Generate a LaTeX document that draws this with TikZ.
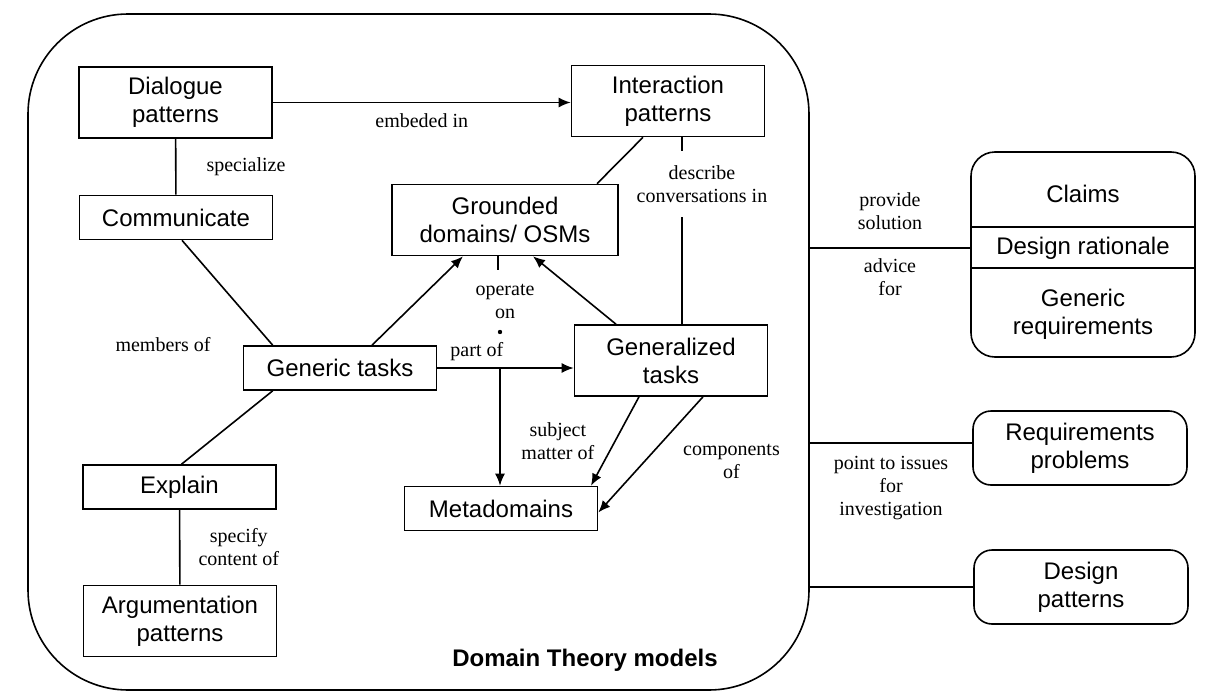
\documentclass[tikz,border=0pt]{standalone}
\usepackage{fontspec}
\setmainfont{Liberation Serif}
\setsansfont{Liberation Sans}
\usetikzlibrary{arrows.meta, positioning}
\tikzstyle{arrow} = [line width=0.8pt,->,>={Latex[length=6pt,width=5pt]}]
\tikzstyle{link} = [line width=0.8pt]
\tikzstyle{model} = [
rectangle, draw=black, line width=0.8pt, minimum width=96.5pt,
text centered, align=center, inner sep=0pt, font=\sffamily\fontsize{12}{14}\selectfont
]
\tikzstyle{tallbox} = [model, minimum height=35.5pt]
\tikzstyle{shortbox} = [model, minimum height=22pt]
\tikzstyle{outcome} = [model, rounded corners=9pt, minimum width=107pt, minimum height=37pt]
\tikzstyle{lbl} = [align=center, inner sep=1pt, font=\fontsize{10}{11.5}\selectfont]

\begin{document}
\begin{tikzpicture}[x=0.5pt, y=-0.5pt]
			\useasboundingbox (0,0) rectangle (1206,696);

			% Domain Theory frame
			\node (dtmodels) [draw, line width=0.8pt, rounded corners=50pt, minimum width=390.5pt, minimum height=338pt, inner sep=0pt] at (418.5,352) {};
			\node (dttitle) [font=\sffamily\bfseries\fontsize{12}{14}\selectfont] at (585,660) {Domain Theory models};

			% Nodes do modelo
			\node (dialogue) [tallbox] at (175.5,102.5) {Dialogue\\patterns};
			\node (interaction) [tallbox] at (668,101) {Interaction\\patterns};
			\node (communicate) [shortbox] at (176,217.5) {Communicate};
			\node (grounded) [tallbox, minimum width=113pt] at (505,220) {Grounded\\domains/ OSMs};
			\node (generic) [shortbox] at (340,368) {Generic tasks};
			\node (generalized) [tallbox] at (671,360.5) {Generalized\\tasks};
			\node (metadomains) [shortbox] at (501,508.5) {Metadomains};
			\node (explain) [shortbox] at (179.5,487) {Explain};
			\node (argumentation) [tallbox] at (180,621) {Argumentation\\patterns};

			% Nodes externos
			\node (claims) [outcome, rounded corners=12pt, minimum width=112pt, minimum height=102.5pt] at (1083,254.5) {};
			\node (claimstxt) [font=\sffamily\fontsize{12}{14}\selectfont] at (1083,194) {Claims};
			\node (rationale) [font=\sffamily\fontsize{12}{14}\selectfont] at (1083,248) {Design rationale};
			\node (genreq) [font=\sffamily\fontsize{12}{14}\selectfont, align=center] at (1083,314) {Generic\\requirements};
			\coordinate (div1) at (1083,227);
			\coordinate (div2) at (1083,268);
			\draw [link] (claims.west |- div1) -- (claims.east |- div1);
			\draw [link] (claims.west |- div2) -- (claims.east |- div2);
			\node (requirements) [outcome] at (1080,448) {Requirements\\problems};
			\node (design) [outcome] at (1081,587) {Design\\patterns};

			% Connections
			\draw [arrow] (dialogue.east) -- node[lbl, below=4pt] {embeded in} (dialogue.east -| interaction.west);
			\draw [link] (dialogue) -- node[lbl, right=14pt] {specialize} (communicate);
			\draw [link] ([xshift=3pt]communicate.south) -- ([xshift=15pt]generic.north west);
			\draw [link] ([xshift=15pt]generic.south west) -- ([xshift=1pt]explain.north);
			\node (members) [lbl] at (163,345) {members of};
			\draw [link] (explain) -- node[lbl, right=8pt] {specify\\content of} (argumentation);
			\draw [arrow] ([xshift=16pt]generic.north) -- ([xshift=-21pt]grounded.south);
			\draw [arrow] ([xshift=-27.5pt]generalized.north) -- ([xshift=14pt]grounded.south);
			\draw [link] ([xshift=46pt]grounded.north) -- ([xshift=-12.5pt]interaction.south);
			\draw [link] ([xshift=7pt]interaction.south) -- node[lbl, pos=0.25, xshift=10pt, fill=white, inner ysep=7pt] {describe\\conversations in} ([xshift=5.5pt]generalized.north);

			% operate on
			\draw [link] ([xshift=-3.5pt]grounded.south) -- ++(0,14);
			\node (operate) [lbl] at (505,301.5) {operate\\on};
			\fill (500,332) circle (1.1pt);

			\draw [arrow] (generic.east) -- node[lbl, pos=0.29, above=2pt] {part of} (generic.east -| generalized.west);
			\coordinate (split) at (500,368);
			\draw [arrow] (split) -- (split |- metadomains.north);
			\draw [arrow] ([xshift=-16pt]generalized.south) -- node[lbl, left=9pt] {subject\\matter of} ([xshift=45pt]metadomains.north);
			\draw [arrow] ([xshift=16pt]generalized.south) -- node[lbl, pos=0.56, right=18pt] {components\\of} ([yshift=-2pt]metadomains.east);

			% Final Connections
			\draw [link] (dtmodels.east |- rationale) -- node[lbl, above=8pt] {provide\\solution} node[lbl, below=4pt] {advice\\for} (claims.west |- rationale);
			\draw [link] ([yshift=2.5pt]requirements.west -| dtmodels.east) -- node[lbl, below=5pt] {point to issues\\for\\investigation} ([yshift=2.5pt]requirements.west);
			\draw [link] (design.west -| dtmodels.east) -- (design.west);

		\end{tikzpicture}
\end{document}
